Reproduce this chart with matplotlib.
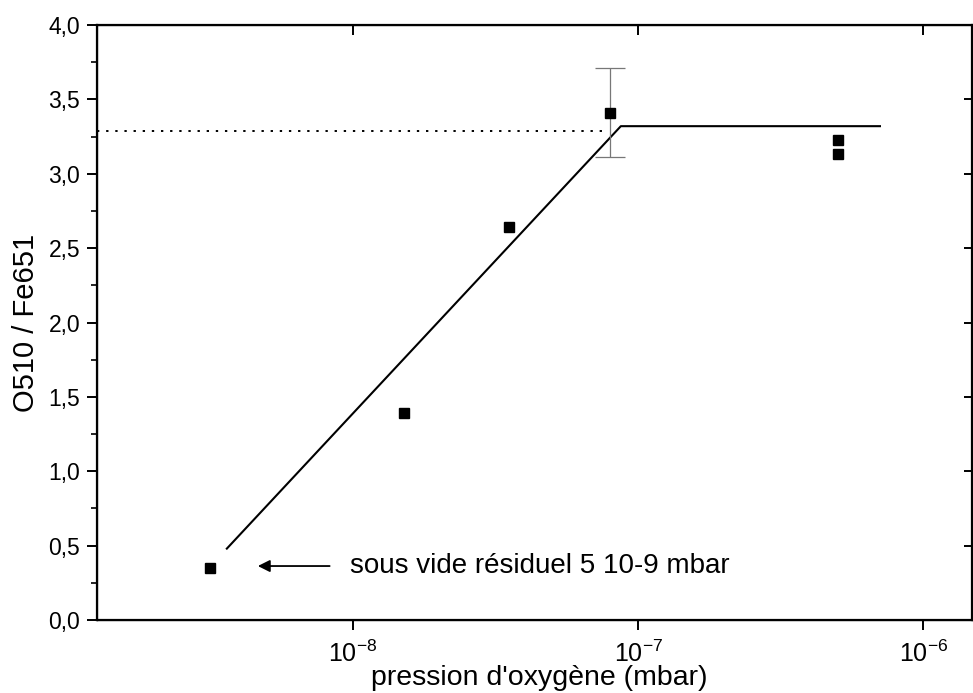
import matplotlib
matplotlib.use('Agg')
import matplotlib.pyplot as plt
from matplotlib.ticker import FuncFormatter, MultipleLocator, FixedLocator, NullLocator, LogFormatterSciNotation

plt.rcParams['font.family'] = ['Liberation Sans', 'DejaVu Sans']

# measured O510/Fe651 ratio against oxygen pressure
pressure = [3.17e-9, 1.51e-8, 3.52e-8, 8.0e-8, 5.0e-7, 5.0e-7]
ratio = [0.35, 1.39, 2.64, 3.41, 3.23, 3.13]
ratio_err = [0.0, 0.0, 0.0, 0.30, 0.0, 0.0]

# two-segment guide: linear rise then saturation plateau
fit_p = [3.6e-9, 8.7e-8, 7.1e-7]
fit_r = [0.475, 3.32, 3.32]

# saturation level reference
sat_level = 3.29
sat_end = 7.8e-8

x_min, x_max = 1.27e-9, 1.48e-6
y_min, y_max = 0.0, 4.0
x_ticks = [1e-8, 1e-7, 1e-6]

fig = plt.figure(figsize=(9.73, 6.93), dpi=100)
ax = fig.add_axes([0.0997, 0.1053, 0.8993, 0.8586])

ax.plot([x_min, sat_end], [sat_level, sat_level], color='black', lw=1.4,
        linestyle=(0, (1.2, 3.5)))
ax.plot(fit_p, fit_r, color='black', lw=1.5, solid_capstyle='butt')

# error bar only on the point that has one
err_idx = [i for i, e in enumerate(ratio_err) if e > 0]
ax.errorbar([pressure[i] for i in err_idx], [ratio[i] for i in err_idx],
            yerr=[ratio_err[i] for i in err_idx], fmt='none', ecolor='#777777',
            elinewidth=0.9, capsize=10.5, capthick=0.9, zorder=2)
ax.plot(pressure, ratio, linestyle='none', marker='s', markersize=7.2,
        color='black', zorder=3)

ax.annotate('', xy=(4.65e-9, 0.363), xytext=(8.3e-9, 0.363),
            arrowprops=dict(arrowstyle='-|>', color='black', lw=1.3,
                            mutation_scale=18, shrinkA=0, shrinkB=0))
ax.text(9.76e-9, 0.363, 'sous vide résiduel 5 10-9 mbar', fontsize=20,
        ha='left', va='center')

ax.set_xscale('log')
ax.set_xlim(x_min, x_max)
ax.set_ylim(y_min, y_max)
ax.xaxis.set_major_locator(FixedLocator(x_ticks))
ax.xaxis.set_minor_locator(NullLocator())
ax.xaxis.set_major_formatter(LogFormatterSciNotation())
ax.yaxis.set_major_locator(MultipleLocator(0.5))
ax.yaxis.set_minor_locator(MultipleLocator(0.25))
ax.yaxis.set_major_formatter(FuncFormatter(lambda v, p: f'{v:.1f}'.replace('.', ',')))

ax.tick_params(which='major', direction='out', length=7, width=1.4,
               labelsize=16.5, top=False, right=False)
ax.tick_params(axis='y', which='major', pad=5)
ax.tick_params(axis='x', which='major', pad=8, labelsize=18)
ax.tick_params(which='minor', direction='out', length=4, width=1.2)

for side in ax.spines.values():
    side.set_linewidth(1.6)

ax.set_xlabel("pression d'oxygène (mbar)", fontsize=20.5, va='center')
ax.xaxis.set_label_coords(0.505, -0.0975)
ax.set_ylabel('O510 / Fe651', fontsize=21, labelpad=6)

# inward ticks on the top and right frame
ax_top = ax.twiny()
ax_top.set_xscale('log')
ax_top.set_xlim(x_min, x_max)
ax_top.xaxis.set_major_locator(FixedLocator(x_ticks))
ax_top.xaxis.set_minor_locator(NullLocator())
ax_top.tick_params(axis='x', direction='in', length=7, width=1.4, labeltop=False)

ax_right = ax.twinx()
ax_right.set_ylim(y_min, y_max)
ax_right.yaxis.set_major_locator(MultipleLocator(0.5))
ax_right.yaxis.set_minor_locator(NullLocator())
ax_right.tick_params(axis='y', direction='in', length=6, width=1.4, labelright=False)

plt.savefig('out.png', dpi=100, facecolor='white')
plt.close()
